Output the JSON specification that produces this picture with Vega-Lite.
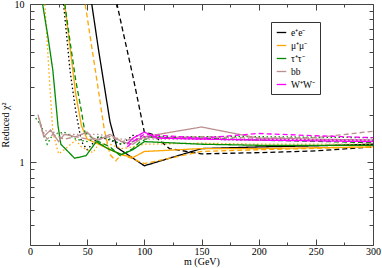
{
  "$schema": "https://vega.github.io/schema/vega-lite/v6.json",
  "width": 343, "height": 241,
  "autosize": "none",
  "padding": {"left": 30, "top": 4, "right": 9, "bottom": 23},
  "config": {"view": {"stroke": null}, "font": "Liberation Serif",
    "axis": {"grid": false, "domainColor": "#444", "tickColor": "#444", "labelColor": "#000", "titleColor": "#000", "labelFont": "Liberation Serif", "titleFont": "Liberation Serif", "labelFontSize": 10, "titleFontSize": 10, "titleFontWeight": "normal"}},
  "datasets": {
    "d": [
      {"c":"e⁺e⁻","s":"solid","m":50,"v":15.7},{"c":"e⁺e⁻","s":"solid","m":60,"v":5.1},{"c":"e⁺e⁻","s":"solid","m":70,"v":1.8},{"c":"e⁺e⁻","s":"solid","m":76,"v":1.24},{"c":"e⁺e⁻","s":"solid","m":100,"v":0.95},{"c":"e⁺e⁻","s":"solid","m":150,"v":1.22},{"c":"e⁺e⁻","s":"solid","m":200,"v":1.25},{"c":"e⁺e⁻","s":"solid","m":250,"v":1.27},{"c":"e⁺e⁻","s":"solid","m":300,"v":1.3},
      {"c":"e⁺e⁻","s":"dashed","m":70,"v":16},{"c":"e⁺e⁻","s":"dashed","m":80,"v":7.4},{"c":"e⁺e⁻","s":"dashed","m":90,"v":3.5},{"c":"e⁺e⁻","s":"dashed","m":100,"v":1.55},{"c":"e⁺e⁻","s":"dashed","m":107,"v":1.5},{"c":"e⁺e⁻","s":"dashed","m":122,"v":1.22},{"c":"e⁺e⁻","s":"dashed","m":150,"v":1.13},{"c":"e⁺e⁻","s":"dashed","m":200,"v":1.15},{"c":"e⁺e⁻","s":"dashed","m":250,"v":1.18},{"c":"e⁺e⁻","s":"dashed","m":300,"v":1.25},
      {"c":"e⁺e⁻","s":"dotted","m":25,"v":20},{"c":"e⁺e⁻","s":"dotted","m":30,"v":9},{"c":"e⁺e⁻","s":"dotted","m":35,"v":3.8},{"c":"e⁺e⁻","s":"dotted","m":40,"v":2.1},{"c":"e⁺e⁻","s":"dotted","m":45,"v":1.35},{"c":"e⁺e⁻","s":"dotted","m":50,"v":1.2},{"c":"e⁺e⁻","s":"dotted","m":60,"v":1.45},{"c":"e⁺e⁻","s":"dotted","m":70,"v":1.38},{"c":"e⁺e⁻","s":"dotted","m":80,"v":1.3},{"c":"e⁺e⁻","s":"dotted","m":90,"v":1.48},{"c":"e⁺e⁻","s":"dotted","m":100,"v":1.45},{"c":"e⁺e⁻","s":"dotted","m":150,"v":1.4},{"c":"e⁺e⁻","s":"dotted","m":200,"v":1.38},{"c":"e⁺e⁻","s":"dotted","m":300,"v":1.38},
      {"c":"μ⁺μ⁻","s":"solid","m":25,"v":22},{"c":"μ⁺μ⁻","s":"solid","m":30,"v":10.5},{"c":"μ⁺μ⁻","s":"solid","m":35,"v":5.3},{"c":"μ⁺μ⁻","s":"solid","m":40,"v":2.7},{"c":"μ⁺μ⁻","s":"solid","m":45,"v":1.7},{"c":"μ⁺μ⁻","s":"solid","m":50,"v":1.4},{"c":"μ⁺μ⁻","s":"solid","m":60,"v":1.3},{"c":"μ⁺μ⁻","s":"solid","m":70,"v":1.2},{"c":"μ⁺μ⁻","s":"solid","m":80,"v":1.12},{"c":"μ⁺μ⁻","s":"solid","m":90,"v":1.07},{"c":"μ⁺μ⁻","s":"solid","m":100,"v":1.17},{"c":"μ⁺μ⁻","s":"solid","m":150,"v":1.22},{"c":"μ⁺μ⁻","s":"solid","m":200,"v":1.22},{"c":"μ⁺μ⁻","s":"solid","m":300,"v":1.25},
      {"c":"μ⁺μ⁻","s":"dashed","m":45,"v":14},{"c":"μ⁺μ⁻","s":"dashed","m":50,"v":8.3},{"c":"μ⁺μ⁻","s":"dashed","m":55,"v":4.8},{"c":"μ⁺μ⁻","s":"dashed","m":60,"v":2.8},{"c":"μ⁺μ⁻","s":"dashed","m":65,"v":1.6},{"c":"μ⁺μ⁻","s":"dashed","m":70,"v":1.12},{"c":"μ⁺μ⁻","s":"dashed","m":75,"v":1.02},{"c":"μ⁺μ⁻","s":"dashed","m":80,"v":1.12},{"c":"μ⁺μ⁻","s":"dashed","m":90,"v":1.05},{"c":"μ⁺μ⁻","s":"dashed","m":100,"v":0.98},{"c":"μ⁺μ⁻","s":"dashed","m":150,"v":1.17},{"c":"μ⁺μ⁻","s":"dashed","m":200,"v":1.2},{"c":"μ⁺μ⁻","s":"dashed","m":300,"v":1.25},
      {"c":"μ⁺μ⁻","s":"dotted","m":10,"v":30},{"c":"μ⁺μ⁻","s":"dotted","m":13,"v":10},{"c":"μ⁺μ⁻","s":"dotted","m":17.5,"v":2.9},{"c":"μ⁺μ⁻","s":"dotted","m":20,"v":1.55},{"c":"μ⁺μ⁻","s":"dotted","m":25,"v":1.13},{"c":"μ⁺μ⁻","s":"dotted","m":30,"v":1.2},{"c":"μ⁺μ⁻","s":"dotted","m":40,"v":1.38},{"c":"μ⁺μ⁻","s":"dotted","m":45,"v":1.25},{"c":"μ⁺μ⁻","s":"dotted","m":55,"v":1.15},{"c":"μ⁺μ⁻","s":"dotted","m":60,"v":1.3},{"c":"μ⁺μ⁻","s":"dotted","m":70,"v":1.3},{"c":"μ⁺μ⁻","s":"dotted","m":80,"v":1.22},{"c":"μ⁺μ⁻","s":"dotted","m":90,"v":1.25},{"c":"μ⁺μ⁻","s":"dotted","m":100,"v":1.3},{"c":"μ⁺μ⁻","s":"dotted","m":150,"v":1.32},{"c":"μ⁺μ⁻","s":"dotted","m":200,"v":1.3},{"c":"μ⁺μ⁻","s":"dotted","m":300,"v":1.3},
      {"c":"τ⁺τ⁻","s":"solid","m":8,"v":16},{"c":"τ⁺τ⁻","s":"solid","m":11,"v":10},{"c":"τ⁺τ⁻","s":"solid","m":15.7,"v":6.2},{"c":"τ⁺τ⁻","s":"solid","m":20,"v":3.8},{"c":"τ⁺τ⁻","s":"solid","m":24.5,"v":1.7},{"c":"τ⁺τ⁻","s":"solid","m":27,"v":1.3},{"c":"τ⁺τ⁻","s":"solid","m":39,"v":1.06},{"c":"τ⁺τ⁻","s":"solid","m":49,"v":1.1},{"c":"τ⁺τ⁻","s":"solid","m":58,"v":1.35},{"c":"τ⁺τ⁻","s":"solid","m":68,"v":1.22},{"c":"τ⁺τ⁻","s":"solid","m":80,"v":1.12},{"c":"τ⁺τ⁻","s":"solid","m":90,"v":1.2},{"c":"τ⁺τ⁻","s":"solid","m":100,"v":1.35},{"c":"τ⁺τ⁻","s":"solid","m":150,"v":1.3},{"c":"τ⁺τ⁻","s":"solid","m":200,"v":1.28},{"c":"τ⁺τ⁻","s":"solid","m":300,"v":1.28},
      {"c":"τ⁺τ⁻","s":"dashed","m":25,"v":20},{"c":"τ⁺τ⁻","s":"dashed","m":30,"v":10.5},{"c":"τ⁺τ⁻","s":"dashed","m":35,"v":5.8},{"c":"τ⁺τ⁻","s":"dashed","m":40,"v":3.3},{"c":"τ⁺τ⁻","s":"dashed","m":45,"v":2.1},{"c":"τ⁺τ⁻","s":"dashed","m":48,"v":1.55},{"c":"τ⁺τ⁻","s":"dashed","m":57,"v":1.38},{"c":"τ⁺τ⁻","s":"dashed","m":70,"v":1.25},{"c":"τ⁺τ⁻","s":"dashed","m":79,"v":1.1},{"c":"τ⁺τ⁻","s":"dashed","m":90,"v":1.22},{"c":"τ⁺τ⁻","s":"dashed","m":96,"v":1.34},{"c":"τ⁺τ⁻","s":"dashed","m":105,"v":1.44},{"c":"τ⁺τ⁻","s":"dashed","m":150,"v":1.42},{"c":"τ⁺τ⁻","s":"dashed","m":200,"v":1.38},{"c":"τ⁺τ⁻","s":"dashed","m":300,"v":1.33},
      {"c":"τ⁺τ⁻","s":"dotted","m":5,"v":1.9},{"c":"τ⁺τ⁻","s":"dotted","m":10,"v":1.7},{"c":"τ⁺τ⁻","s":"dotted","m":15,"v":1.3},{"c":"τ⁺τ⁻","s":"dotted","m":20,"v":1.5},{"c":"τ⁺τ⁻","s":"dotted","m":30,"v":1.55},{"c":"τ⁺τ⁻","s":"dotted","m":40,"v":1.4},{"c":"τ⁺τ⁻","s":"dotted","m":50,"v":1.35},{"c":"τ⁺τ⁻","s":"dotted","m":60,"v":1.45},{"c":"τ⁺τ⁻","s":"dotted","m":70,"v":1.4},{"c":"τ⁺τ⁻","s":"dotted","m":80,"v":1.3},{"c":"τ⁺τ⁻","s":"dotted","m":90,"v":1.35},{"c":"τ⁺τ⁻","s":"dotted","m":100,"v":1.45},{"c":"τ⁺τ⁻","s":"dotted","m":150,"v":1.45},{"c":"τ⁺τ⁻","s":"dotted","m":200,"v":1.45},{"c":"τ⁺τ⁻","s":"dotted","m":300,"v":1.43},
      {"c":"bb","s":"solid","m":8,"v":1.9},{"c":"bb","s":"solid","m":12,"v":1.45},{"c":"bb","s":"solid","m":18,"v":1.6},{"c":"bb","s":"solid","m":25,"v":1.35},{"c":"bb","s":"solid","m":30,"v":1.5},{"c":"bb","s":"solid","m":40,"v":1.45},{"c":"bb","s":"solid","m":50,"v":1.55},{"c":"bb","s":"solid","m":55,"v":1.42},{"c":"bb","s":"solid","m":60,"v":1.38},{"c":"bb","s":"solid","m":70,"v":1.5},{"c":"bb","s":"solid","m":80,"v":1.35},{"c":"bb","s":"solid","m":90,"v":1.3},{"c":"bb","s":"solid","m":100,"v":1.45},{"c":"bb","s":"solid","m":150,"v":1.67},{"c":"bb","s":"solid","m":200,"v":1.42},{"c":"bb","s":"solid","m":300,"v":1.38},
      {"c":"bb","s":"dashed","m":7,"v":2.0},{"c":"bb","s":"dashed","m":10,"v":1.6},{"c":"bb","s":"dashed","m":15,"v":1.4},{"c":"bb","s":"dashed","m":20,"v":1.5},{"c":"bb","s":"dashed","m":30,"v":1.4},{"c":"bb","s":"dashed","m":40,"v":1.45},{"c":"bb","s":"dashed","m":50,"v":1.4},{"c":"bb","s":"dashed","m":60,"v":1.4},{"c":"bb","s":"dashed","m":70,"v":1.45},{"c":"bb","s":"dashed","m":80,"v":1.35},{"c":"bb","s":"dashed","m":90,"v":1.4},{"c":"bb","s":"dashed","m":100,"v":1.42},{"c":"bb","s":"dashed","m":150,"v":1.45},{"c":"bb","s":"dashed","m":200,"v":1.42},{"c":"bb","s":"dashed","m":250,"v":1.43},{"c":"bb","s":"dashed","m":300,"v":1.57},
      {"c":"bb","s":"dotted","m":10,"v":1.6},{"c":"bb","s":"dotted","m":20,"v":1.55},{"c":"bb","s":"dotted","m":30,"v":1.5},{"c":"bb","s":"dotted","m":40,"v":1.5},{"c":"bb","s":"dotted","m":50,"v":1.5},{"c":"bb","s":"dotted","m":60,"v":1.5},{"c":"bb","s":"dotted","m":70,"v":1.45},{"c":"bb","s":"dotted","m":80,"v":1.4},{"c":"bb","s":"dotted","m":90,"v":1.4},{"c":"bb","s":"dotted","m":100,"v":1.4},{"c":"bb","s":"dotted","m":150,"v":1.4},{"c":"bb","s":"dotted","m":200,"v":1.38},{"c":"bb","s":"dotted","m":300,"v":1.38},
      {"c":"W⁺W⁻","s":"solid","m":85,"v":1.3},{"c":"W⁺W⁻","s":"solid","m":90,"v":1.42},{"c":"W⁺W⁻","s":"solid","m":100,"v":1.55},{"c":"W⁺W⁻","s":"solid","m":112,"v":1.42},{"c":"W⁺W⁻","s":"solid","m":150,"v":1.4},{"c":"W⁺W⁻","s":"solid","m":200,"v":1.38},{"c":"W⁺W⁻","s":"solid","m":300,"v":1.35},
      {"c":"W⁺W⁻","s":"dashed","m":85,"v":1.25},{"c":"W⁺W⁻","s":"dashed","m":90,"v":1.35},{"c":"W⁺W⁻","s":"dashed","m":100,"v":1.5},{"c":"W⁺W⁻","s":"dashed","m":150,"v":1.42},{"c":"W⁺W⁻","s":"dashed","m":200,"v":1.52},{"c":"W⁺W⁻","s":"dashed","m":250,"v":1.47},{"c":"W⁺W⁻","s":"dashed","m":300,"v":1.43},
      {"c":"W⁺W⁻","s":"dotted","m":90,"v":1.35},{"c":"W⁺W⁻","s":"dotted","m":100,"v":1.45},{"c":"W⁺W⁻","s":"dotted","m":150,"v":1.4},{"c":"W⁺W⁻","s":"dotted","m":200,"v":1.4},{"c":"W⁺W⁻","s":"dotted","m":300,"v":1.38}
    ]
  },
  "data": {"name": "d"},
  "resolve": {"axis": {"x": "independent", "y": "independent"}},
  "layer": [
    {
      "mark": {"type": "line", "clip": true, "strokeWidth": 1.3},
      "encoding": {
        "x": {"field": "m", "type": "quantitative", "scale": {"domain": [0, 300], "nice": false, "zero": false},
          "axis": {"orient": "bottom", "title": "m (GeV)", "titlePadding": 0, "values": [0,25,50,75,100,125,150,175,200,225,250,275,300],
            "labelExpr": "datum.value % 50 == 0 ? datum.label : ''",
            "tickSize": {"condition": {"test": "datum.value % 50 == 0", "value": -6}, "value": -3},
            "labelPadding": 7, "labelFlush": false}},
        "y": {"field": "v", "type": "quantitative", "scale": {"type": "log", "domain": [0.3, 10], "nice": false},
          "axis": {"orient": "left", "title": "Reduced χ²", "titlePadding": 4, "values": [0.3,0.4,0.5,0.6,0.7,0.8,0.9,1,2,3,4,5,6,7,8,9,10], "format": "~g",
            "labelExpr": "datum.value == 1 || datum.value == 10 ? datum.label : ''",
            "tickSize": {"condition": {"test": "datum.value == 1 || datum.value == 10", "value": -6}, "value": -4},
            "labelPadding": 12}},
        "color": {"field": "c", "type": "nominal", "sort": null,
          "scale": {"domain": ["e⁺e⁻","μ⁺μ⁻","τ⁺τ⁻","bb","W⁺W⁻"], "range": ["#000000","#ffa500","#008b00","#bc8f8f","#ff00ff"]},
          "legend": {"title": null, "orient": "none", "legendX": 241, "legendY": 18, "symbolType": "stroke", "symbolSize": 90, "symbolStrokeWidth": 1.3,
            "labelFont": "Liberation Serif", "labelFontSize": 9.5, "strokeColor": "#333", "padding": 5, "rowPadding": 3, "labelLimit": 60, "fillColor": "#fff"}},
        "strokeDash": {"field": "s", "type": "nominal", "legend": null,
          "scale": {"domain": ["solid","dashed","dotted"], "range": [[1,0],[5,3],[1.5,2.5]]}},
        "detail": {"field": "s"}
      }
    },
    {
      "mark": {"type": "line", "opacity": 0},
      "encoding": {
        "x": {"field": "m", "type": "quantitative",
          "axis": {"orient": "top", "title": null, "labels": false, "values": [0,25,50,75,100,125,150,175,200,225,250,275,300],
            "tickSize": {"condition": {"test": "datum.value % 50 == 0", "value": -6}, "value": -3}}},
        "y": {"field": "v", "type": "quantitative",
          "axis": {"orient": "right", "title": null, "labels": false, "values": [0.3,0.4,0.5,0.6,0.7,0.8,0.9,1,2,3,4,5,6,7,8,9,10],
            "tickSize": {"condition": {"test": "datum.value == 1 || datum.value == 10", "value": -6}, "value": -4}}},
        "detail": {"field": "c"}
      }
    }
  ]
}
